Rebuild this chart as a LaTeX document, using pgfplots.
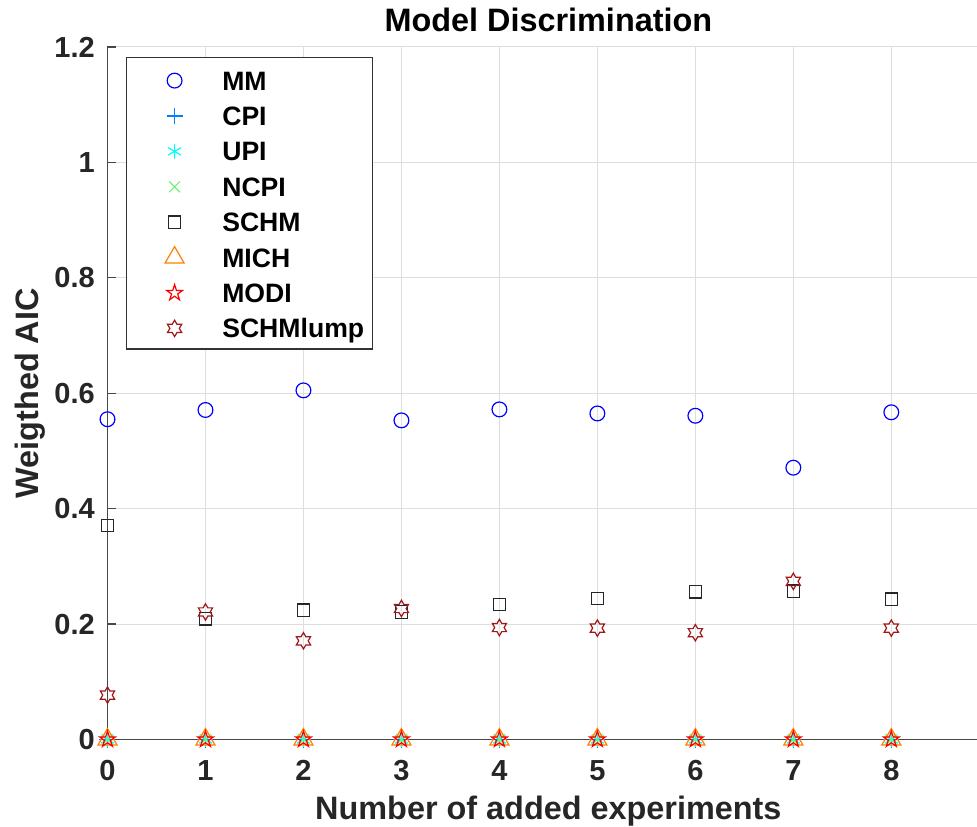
\documentclass[border=0pt]{standalone}
\usepackage{fontspec}
\setmainfont{Liberation Sans}
\usepackage{pgfplots}
\pgfplotsset{compat=1.18}

\definecolor{mmblue}{rgb}{0,0,1}
\definecolor{cpiblue}{rgb}{0,0.5,1}
\definecolor{upicyan}{rgb}{0,1,1}
\definecolor{ncpigreen}{rgb}{0.45,0.95,0.45}
\definecolor{michorange}{rgb}{1,0.5,0}
\definecolor{modired}{rgb}{1,0,0}
\definecolor{lumpred}{rgb}{0.62,0.1,0.1}

% outlined five-pointed star
\pgfdeclareplotmark{pentagram}{%
  \pgfpathmoveto{\pgfpointpolar{90}{\pgfplotmarksize}}%
  \pgfpathlineto{\pgfpointpolar{126}{0.382\pgfplotmarksize}}%
  \pgfpathlineto{\pgfpointpolar{162}{\pgfplotmarksize}}%
  \pgfpathlineto{\pgfpointpolar{198}{0.382\pgfplotmarksize}}%
  \pgfpathlineto{\pgfpointpolar{234}{\pgfplotmarksize}}%
  \pgfpathlineto{\pgfpointpolar{270}{0.382\pgfplotmarksize}}%
  \pgfpathlineto{\pgfpointpolar{306}{\pgfplotmarksize}}%
  \pgfpathlineto{\pgfpointpolar{342}{0.382\pgfplotmarksize}}%
  \pgfpathlineto{\pgfpointpolar{18}{\pgfplotmarksize}}%
  \pgfpathlineto{\pgfpointpolar{54}{0.382\pgfplotmarksize}}%
  \pgfpathclose
  \pgfusepathqstroke}

% outlined six-pointed star
\pgfdeclareplotmark{hexagram}{%
  \pgfpathmoveto{\pgfpointpolar{90}{\pgfplotmarksize}}%
  \pgfpathlineto{\pgfpointpolar{120}{0.577\pgfplotmarksize}}%
  \pgfpathlineto{\pgfpointpolar{150}{\pgfplotmarksize}}%
  \pgfpathlineto{\pgfpointpolar{180}{0.577\pgfplotmarksize}}%
  \pgfpathlineto{\pgfpointpolar{210}{\pgfplotmarksize}}%
  \pgfpathlineto{\pgfpointpolar{240}{0.577\pgfplotmarksize}}%
  \pgfpathlineto{\pgfpointpolar{270}{\pgfplotmarksize}}%
  \pgfpathlineto{\pgfpointpolar{300}{0.577\pgfplotmarksize}}%
  \pgfpathlineto{\pgfpointpolar{330}{\pgfplotmarksize}}%
  \pgfpathlineto{\pgfpointpolar{0}{0.577\pgfplotmarksize}}%
  \pgfpathlineto{\pgfpointpolar{30}{\pgfplotmarksize}}%
  \pgfpathlineto{\pgfpointpolar{60}{0.577\pgfplotmarksize}}%
  \pgfpathclose
  \pgfusepathqstroke}

\begin{document}
\begin{tikzpicture}
\begin{axis}[
  scale only axis,
  width=881.8pt, height=692.5pt,
  xmin=0, xmax=9, ymin=0, ymax=1.2,
  clip=false,
  axis x line*=bottom, axis y line*=left,
  axis line style={draw=black!72, line width=1.2pt},
  xtick={0,1,2,3,4,5,6,7,8},
  ytick={0,0.2,0.4,0.6,0.8,1,1.2},
  yticklabels={0,0.2,0.4,0.6,0.8,1,1.2},
  tick align=inside, major tick length=9pt,
  tick style={draw=black!72, line width=1.2pt},
  grid=major,
  major grid style={draw=black!13, line width=1pt},
  /pgf/number format/assume math mode=true,
  ticklabel style={font=\bfseries\fontsize{29}{29}\selectfont, text=black!85},
  xticklabel style={anchor=base, inner sep=0pt, yshift=-40.5pt},
  yticklabel style={anchor=east, inner sep=0pt, xshift=-12.5pt},
  title={Model Discrimination},
  title style={at={([yshift=9.7pt]axis description cs:0.5,1)}, anchor=base,
    inner sep=0pt, font=\bfseries\fontsize{32.4}{32.4}\selectfont},
  xlabel={Number of added experiments},
  xlabel style={at={([yshift=-79.5pt]axis description cs:0.5,0)}, anchor=base,
    inner sep=0pt, font=\bfseries\fontsize{32.4}{32.4}\selectfont, text=black!85},
  ylabel={Weigthed AIC},
  ylabel style={at={([xshift=-69pt]axis description cs:0,0.5)}, anchor=base,
    rotate=0, inner sep=0pt, font=\bfseries\fontsize{32.4}{32.4}\selectfont, text=black!85},
  every axis plot/.append style={only marks, line width=1.2pt},
  legend cell align=left,
  legend style={
    at={(axis description cs:0.02098,0.98513)}, anchor=north west,
    draw=black!80, line width=1.2pt, fill=white,
    inner xsep=8.6pt, inner ysep=8.2pt,
    font=\bfseries\fontsize{26.6}{26.6}\selectfont,
    row sep=8.4pt, column sep=0pt,
    nodes={inner sep=0pt, text height=22pt, text depth=3pt},
  },
  legend image code/.code={%
    \path[draw=none, fill=none] (0pt,-10.5pt) rectangle (87.1pt,14.5pt);
    \draw[#1] plot coordinates {(39.4pt,0pt)};
  },
]
\coordinate (O) at (axis cs:0,0);

\addplot[mmblue, mark=o, mark size=7.4pt] coordinates {
  (0,0.555) (1,0.571) (2,0.605) (3,0.553) (4,0.572)
  (5,0.565) (6,0.561) (7,0.471) (8,0.567)};
\addlegendentry{MM}

\addplot[cpiblue, mark=+, mark size=8pt] coordinates {
  (0,0) (1,0) (2,0) (3,0) (4,0) (5,0) (6,0) (7,0) (8,0)};
\addlegendentry{CPI}

\addplot[upicyan, mark=asterisk, mark size=7.5pt] coordinates {
  (0,0) (1,0) (2,0) (3,0) (4,0) (5,0) (6,0) (7,0) (8,0)};
\addlegendentry{UPI}

\addplot[ncpigreen, mark=x, mark size=7.5pt] coordinates {
  (0,0) (1,0) (2,0) (3,0) (4,0) (5,0) (6,0) (7,0) (8,0)};
\addlegendentry{NCPI}

\addplot[black!85, mark=square, mark size=6.2pt] coordinates {
  (0,0.371) (1,0.209) (2,0.224) (3,0.221) (4,0.234)
  (5,0.244) (6,0.256) (7,0.257) (8,0.243)};
\addlegendentry{SCHM}

\addplot[michorange, mark=triangle, mark size=11pt] coordinates {
  (0,0) (1,0) (2,0) (3,0) (4,0) (5,0) (6,0) (7,0) (8,0)};
\addlegendentry{MICH}

\addplot[modired, mark=pentagram, mark size=8.4pt] coordinates {
  (0,0) (1,0) (2,0) (3,0) (4,0) (5,0) (6,0) (7,0) (8,0)};
\addlegendentry{MODI}

\addplot[lumpred, mark=hexagram, mark size=8.2pt] coordinates {
  (0,0.077) (1,0.221) (2,0.171) (3,0.227) (4,0.194)
  (5,0.193) (6,0.185) (7,0.274) (8,0.193)};
\addlegendentry{SCHMlump}
\end{axis}
\pgfresetboundingbox
\path[use as bounding box] ([shift={(-107.5pt,-87.5pt)}]O) rectangle ([shift={(869.5pt,739.5pt)}]O);
\end{tikzpicture}
\end{document}
